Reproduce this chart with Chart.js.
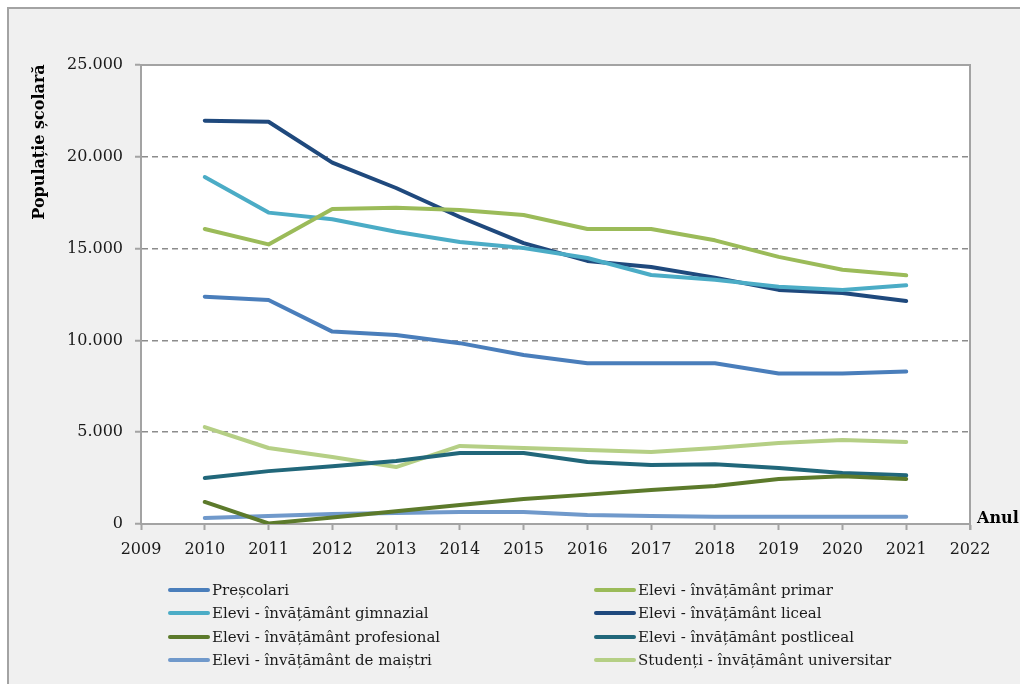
<!DOCTYPE html>
<html lang="ro">
<head>
<meta charset="utf-8">
<title>Populație școlară</title>
<script src="https://cdn.jsdelivr.net/npm/chart.js@4"></script>
<style>
  html, body { margin: 0; padding: 0; background: #ffffff; }
  #wrap { position: relative; width: 1020px; height: 684px; overflow: hidden; }
  #frame {
    position: absolute; left: 7px; top: 7px; width: 1030px; height: 700px;
    background: #f0f0f0; border-left: 2px solid #a3a3a3; border-top: 2px solid #a3a3a3;
  }
  #chart { position: absolute; left: 0; top: 0; }
  .legend-item {
    position: absolute; height: 22px; line-height: 22px; white-space: nowrap;
    font-family: "DejaVu Serif", serif; font-size: 15px; color: #1a1a1a;
  }
  .legend-item .swatch {
    display: inline-block; width: 42px; height: 4px; border-radius: 2px;
    vertical-align: middle; margin-right: 2px; position: relative; top: -1px;
  }
</style>
</head>
<body>
<div id="wrap">
  <div id="frame"></div>
  <canvas id="chart" width="1020" height="684"></canvas>
  <div id="legend"></div>
</div>
<script>
// Years on the x axis
const years = [2010, 2011, 2012, 2013, 2014, 2015, 2016, 2017, 2018, 2019, 2020, 2021];

// School population per level of education
const prescolari = [12380, 12200, 10480, 10300, 9850, 9200, 8750, 8750, 8750, 8200, 8200, 8300];
const primar = [16070, 15230, 17160, 17230, 17100, 16830, 16070, 16070, 15450, 14550, 13850, 13550];
const gimnazial = [18900, 16960, 16600, 15920, 15360, 15030, 14490, 13560, 13300, 12920, 12750, 13000];
const liceal = [21970, 21910, 19680, 18300, 16720, 15300, 14330, 14000, 13420, 12750, 12580, 12150];
const profesional = [1200, 30, 350, 700, 1030, 1360, 1600, 1850, 2070, 2450, 2600, 2450];
const postliceal = [2500, 2880, 3150, 3430, 3870, 3870, 3380, 3220, 3250, 3050, 2780, 2650];
const maistri = [330, 440, 540, 600, 650, 650, 490, 440, 400, 400, 400, 400];
const universitar = [5280, 4140, 3650, 3100, 4250, 4140, 4030, 3920, 4140, 4410, 4580, 4470];

const seriesLabels = [
    'Preșcolari',
    'Elevi - învățământ primar',
    'Elevi - învățământ gimnazial',
    'Elevi - învățământ liceal',
    'Elevi - învățământ profesional',
    'Elevi - învățământ postliceal',
    'Elevi - învățământ de maiștri',
    'Studenți - învățământ universitar'
];
const seriesValues = [prescolari, primar, gimnazial, liceal, profesional, postliceal, maistri, universitar];
const seriesColors = ['#4a7ebb', '#9bbb59', '#4bacc6', '#1f497d', '#5c7a2b', '#21677a', '#7099cb', '#b5cf85'];

// Axis ranges and tick steps
const xMin = 2009, xMax = 2022;
const yMin = 0, yMax = 25000, yStep = 5000;

const serif = '"DejaVu Serif", serif';

function formatThousands(v) {
    return String(v).replace(/\B(?=(\d{3})+(?!\d))/g, '.');
}

// White plot area plus top/right frame lines
const plotFrame = {
    id: 'plotFrame',
    beforeDraw(chart) {
        const { ctx, chartArea: a } = chart;
        ctx.save();
        ctx.fillStyle = '#ffffff';
        ctx.fillRect(a.left, a.top, a.right - a.left, a.bottom - a.top);
        ctx.restore();
    },
    beforeDatasetsDraw(chart) {
        const { ctx, chartArea: a } = chart;
        ctx.save();
        ctx.strokeStyle = '#a3a3a3';
        ctx.lineWidth = 2;
        ctx.beginPath();
        ctx.moveTo(a.left, a.top);
        ctx.lineTo(a.right, a.top);
        ctx.lineTo(a.right, a.bottom + 6);
        ctx.stroke();
        ctx.restore();
    }
};

// Axis titles placed like the original worksheet chart
const axisTitles = {
    id: 'axisTitles',
    afterDraw(chart) {
        const { ctx, chartArea: a } = chart;
        ctx.save();
        ctx.fillStyle = '#000000';
        ctx.font = 'bold 16px ' + serif;
        ctx.textBaseline = 'middle';
        ctx.textAlign = 'center';
        ctx.translate(40, 142);
        ctx.rotate(-Math.PI / 2);
        ctx.fillText('Populație școlară', 0, 0);
        ctx.restore();

        ctx.save();
        ctx.fillStyle = '#000000';
        ctx.font = 'bold 16px ' + serif;
        ctx.textBaseline = 'alphabetic';
        ctx.textAlign = 'left';
        ctx.fillText('Anul', a.right + 7, a.bottom - 1);
        ctx.restore();
    }
};

const ctx = document.getElementById('chart').getContext('2d');
const chart = new Chart(ctx, {
    type: 'line',
    data: {
        datasets: seriesLabels.map((label, i) => ({
            label: label,
            data: years.map((yr, j) => ({ x: yr, y: seriesValues[i][j] })),
            borderColor: seriesColors[i],
            backgroundColor: seriesColors[i],
            borderWidth: 4,
            borderCapStyle: 'round',
            borderJoinStyle: 'round',
            pointRadius: 0,
            tension: 0,
            fill: false
        }))
    },
    options: {
        responsive: false,
        animation: false,
        layout: { padding: { left: 0, top: 65, right: 50, bottom: 0 } },
        plugins: {
            legend: { display: false },
            tooltip: { enabled: false }
        },
        scales: {
            x: {
                type: 'linear',
                min: xMin,
                max: xMax,
                ticks: {
                    stepSize: 1,
                    padding: 10,
                    color: '#1a1a1a',
                    font: { family: serif, size: 16 },
                    callback: (v) => String(v)
                },
                grid: {
                    drawOnChartArea: false,
                    drawTicks: true,
                    tickLength: 6,
                    tickColor: '#a3a3a3',
                    tickWidth: 2
                },
                border: { color: '#a3a3a3', width: 2 },
                afterFit: (scale) => { scale.height = 160; }
            },
            y: {
                min: yMin,
                max: yMax,
                ticks: {
                    stepSize: yStep,
                    padding: 12,
                    color: '#1a1a1a',
                    font: { family: serif, size: 16 },
                    callback: (v) => formatThousands(v)
                },
                grid: {
                    color: (c) => (c.tick && (c.tick.value === yMin || c.tick.value === yMax)) ? 'rgba(0,0,0,0)' : '#8c8c8c',
                    lineWidth: 1.5,
                    tickLength: 6,
                    tickColor: '#a3a3a3',
                    tickWidth: 2
                },
                border: { color: '#a3a3a3', width: 2, dash: [6, 4] },
                afterFit: (scale) => { scale.width = 141; }
            }
        }
    },
    plugins: [plotFrame, axisTitles]
});

// Two-column legend under the plot
const legendEl = document.getElementById('legend');
const legendCols = [168, 594];
const legendRows = [590, 613, 637, 660];
chart.data.datasets.forEach((ds, i) => {
    const item = document.createElement('div');
    item.className = 'legend-item';
    item.style.left = legendCols[i % 2] + 'px';
    item.style.top = (legendRows[Math.floor(i / 2)] - 11) + 'px';
    const sw = document.createElement('span');
    sw.className = 'swatch';
    sw.style.background = ds.borderColor;
    const tx = document.createElement('span');
    tx.textContent = ds.label;
    item.appendChild(sw);
    item.appendChild(tx);
    legendEl.appendChild(item);
});
</script>
</body>
</html>
